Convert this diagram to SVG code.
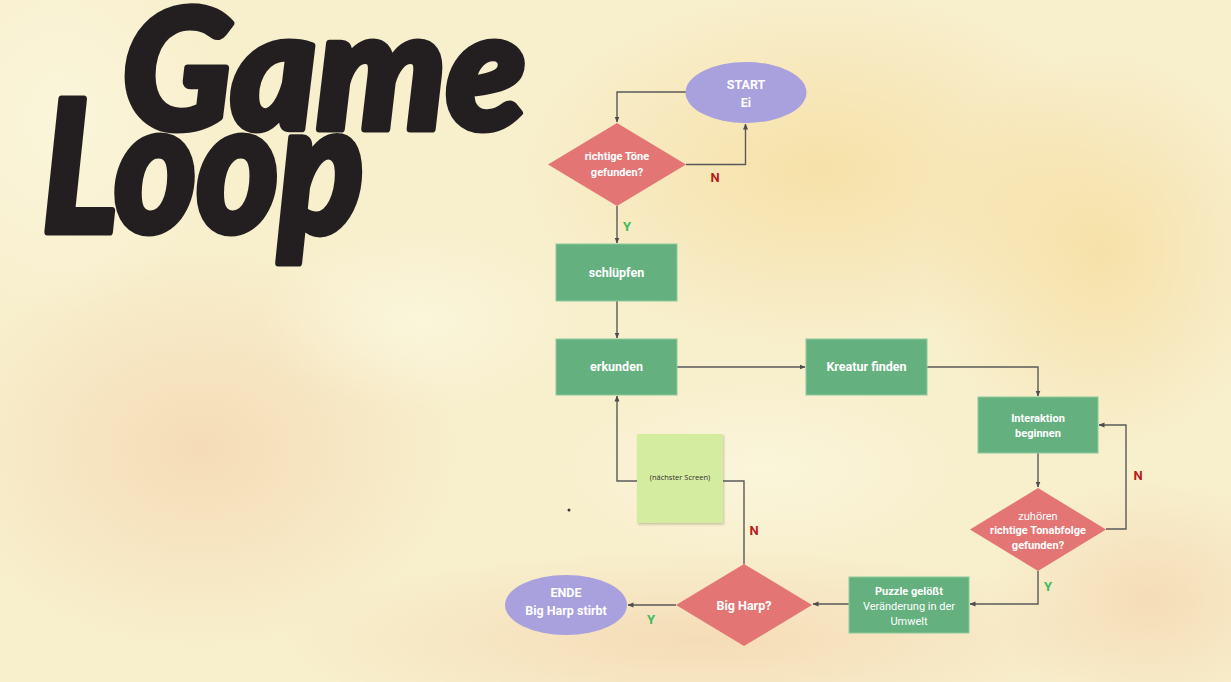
<svg xmlns="http://www.w3.org/2000/svg" width="1231" height="682" viewBox="0 0 1231 682">
<defs>
<radialGradient id="b1" cx="0.5" cy="0.5" r="0.5"><stop offset="0" stop-color="#f6dc9c" stop-opacity="0.75"/><stop offset="1" stop-color="#f6dc9c" stop-opacity="0"/></radialGradient>
<radialGradient id="b2" cx="0.5" cy="0.5" r="0.5"><stop offset="0" stop-color="#f3cfa8" stop-opacity="0.6"/><stop offset="1" stop-color="#f3cfa8" stop-opacity="0"/></radialGradient>
<radialGradient id="b3" cx="0.5" cy="0.5" r="0.5"><stop offset="0" stop-color="#fbf6dc" stop-opacity="0.9"/><stop offset="1" stop-color="#fbf6dc" stop-opacity="0"/></radialGradient>
<marker id="ah" viewBox="0 0 6 6" refX="5.5" refY="3" markerWidth="6" markerHeight="6" orient="auto" markerUnits="userSpaceOnUse"><path d="M0,0.5 L6,3 L0,5.5 Z" fill="#4d4d4d"/></marker>
<filter id="sh" x="-10%" y="-10%" width="130%" height="130%"><feDropShadow dx="1" dy="1.5" stdDeviation="1.2" flood-color="#000" flood-opacity="0.2"/></filter>
</defs>
<style>
.proc{fill:#65b07f;stroke:#8ccc9c;stroke-width:1}
.dec{fill:#e47575}
.term{fill:#a9a0de}
.t{font-family:Roboto,"Noto Sans","Liberation Sans",sans-serif;font-size:12.5px;fill:#ffffff;text-anchor:middle;font-weight:700}
.tn{font-weight:400}
.s{font-size:11px}
.c{fill:none;stroke:#595959;stroke-width:1.4}
.lbN{font-family:Roboto,"Liberation Sans",sans-serif;font-size:13px;font-weight:700;fill:#b71c1c;text-anchor:middle}
.lbY{font-family:Roboto,"Liberation Sans",sans-serif;font-size:13px;font-weight:700;fill:#3dbb5a;text-anchor:middle}
.title{font-family:Lato,"DejaVu Sans",sans-serif;font-weight:900;font-style:italic;fill:#231f20;stroke:#231f20;stroke-width:7;stroke-linejoin:round}
</style>
<rect x="0" y="0" width="1231" height="682" fill="#f8efcd"/>
<ellipse cx="820" cy="170" rx="300" ry="180" fill="url(#b1)"/>
<ellipse cx="1100" cy="250" rx="180" ry="200" fill="url(#b1)"/>
<ellipse cx="200" cy="450" rx="260" ry="200" fill="url(#b2)"/>
<ellipse cx="700" cy="640" rx="420" ry="90" fill="url(#b2)"/>
<ellipse cx="1150" cy="600" rx="160" ry="120" fill="url(#b2)"/>
<ellipse cx="60" cy="120" rx="160" ry="200" fill="url(#b3)"/>
<ellipse cx="420" cy="320" rx="160" ry="90" fill="url(#b3)"/>
<ellipse cx="760" cy="470" rx="200" ry="90" fill="url(#b3)"/>
<circle cx="569" cy="510" r="1.5" fill="#3a3a3a"/>

<g id="title">
<text class="title" x="122" y="129" font-size="165" textLength="404" lengthAdjust="spacingAndGlyphs">Game</text>
<text class="title" x="42" y="232" font-size="184" textLength="322" lengthAdjust="spacingAndGlyphs">Loop</text>
</g>

<g id="connectors">
<path class="c" d="M686,92 H617 V122" marker-end="url(#ah)"/>
<path class="c" d="M686,164.5 H745.5 V124" marker-end="url(#ah)"/>
<path class="c" d="M617,206 V243" marker-end="url(#ah)"/>
<path class="c" d="M617,301 V338" marker-end="url(#ah)"/>
<path class="c" d="M677,367 H805" marker-end="url(#ah)"/>
<path class="c" d="M927,367 H1038 V396" marker-end="url(#ah)"/>
<path class="c" d="M1038,453 V487" marker-end="url(#ah)"/>
<path class="c" d="M1106,529 H1126 V425 H1099" marker-end="url(#ah)"/>
<path class="c" d="M1038,571 V604 H970" marker-end="url(#ah)"/>
<path class="c" d="M849,604 H813" marker-end="url(#ah)"/>
<path class="c" d="M676,605 H628" marker-end="url(#ah)"/>
<path class="c" d="M744,564 V481 H617 V396" marker-end="url(#ah)"/>
<text class="lbN" x="715" y="182">N</text>
<text class="lbY" x="627" y="231">Y</text>
<text class="lbN" x="1138" y="480">N</text>
<text class="lbY" x="1048" y="591">Y</text>
<text class="lbN" x="754" y="535">N</text>
<text class="lbY" x="651" y="624">Y</text>
</g>

<g id="start">
<ellipse class="term" cx="746" cy="92.5" rx="60.5" ry="30.5"/>
<text class="t" x="746" y="89">START</text>
<text class="t" x="746" y="107">Ei</text>
</g>

<g id="decision1">
<polygon class="dec" points="617,123 686,164.5 617,206 548,164.5"/>
<text class="t s" x="617" y="160">richtige Töne</text>
<text class="t s" x="617" y="176">gefunden?</text>
</g>

<g id="schluepfen">
<rect class="proc" x="556" y="244" width="121" height="57"/>
<text class="t" x="616.5" y="277">schlüpfen</text>
</g>

<g id="erkunden">
<rect class="proc" x="556" y="339" width="121" height="56"/>
<text class="t" x="616.5" y="371">erkunden</text>
</g>

<g id="kreatur">
<rect class="proc" x="806" y="339" width="121" height="56"/>
<text class="t" x="866.5" y="371">Kreatur finden</text>
</g>

<g id="interaktion">
<rect class="proc" x="978" y="397" width="120" height="56"/>
<text class="t s" x="1038" y="422">Interaktion</text>
<text class="t s" x="1038" y="437">beginnen</text>
</g>

<g id="decision2">
<polygon class="dec" points="1038,488 1106,529.5 1038,571 970,529.5"/>
<text class="t s tn" x="1038" y="520">zuhören</text>
<text class="t s" x="1038" y="534">richtige Tonabfolge</text>
<text class="t s" x="1038" y="549">gefunden?</text>
</g>

<g id="puzzle">
<rect class="proc" x="849" y="577" width="120" height="56"/>
<text class="t s" x="909" y="595">Puzzle gelößt</text>
<text class="t s tn" x="909" y="610">Veränderung in der</text>
<text class="t s tn" x="909" y="625">Umwelt</text>
</g>

<g id="bigharp">
<polygon class="dec" points="744,564 812,605 744,646 676,605"/>
<text class="t" x="744" y="610">Big Harp?</text>
</g>

<g id="ende">
<ellipse class="term" cx="566" cy="605" rx="61" ry="30"/>
<text class="t" x="566" y="597">ENDE</text>
<text class="t" x="566" y="615">Big Harp stirbt</text>
</g>

<g id="sticky">
<rect x="637" y="434" width="86" height="89" fill="#d4ec9f" filter="url(#sh)"/>
<text x="680" y="480" font-family="'Open Sans','Noto Sans',sans-serif" font-size="7.5" fill="#333" text-anchor="middle">(nächster Screen)</text>
</g>
</svg>
